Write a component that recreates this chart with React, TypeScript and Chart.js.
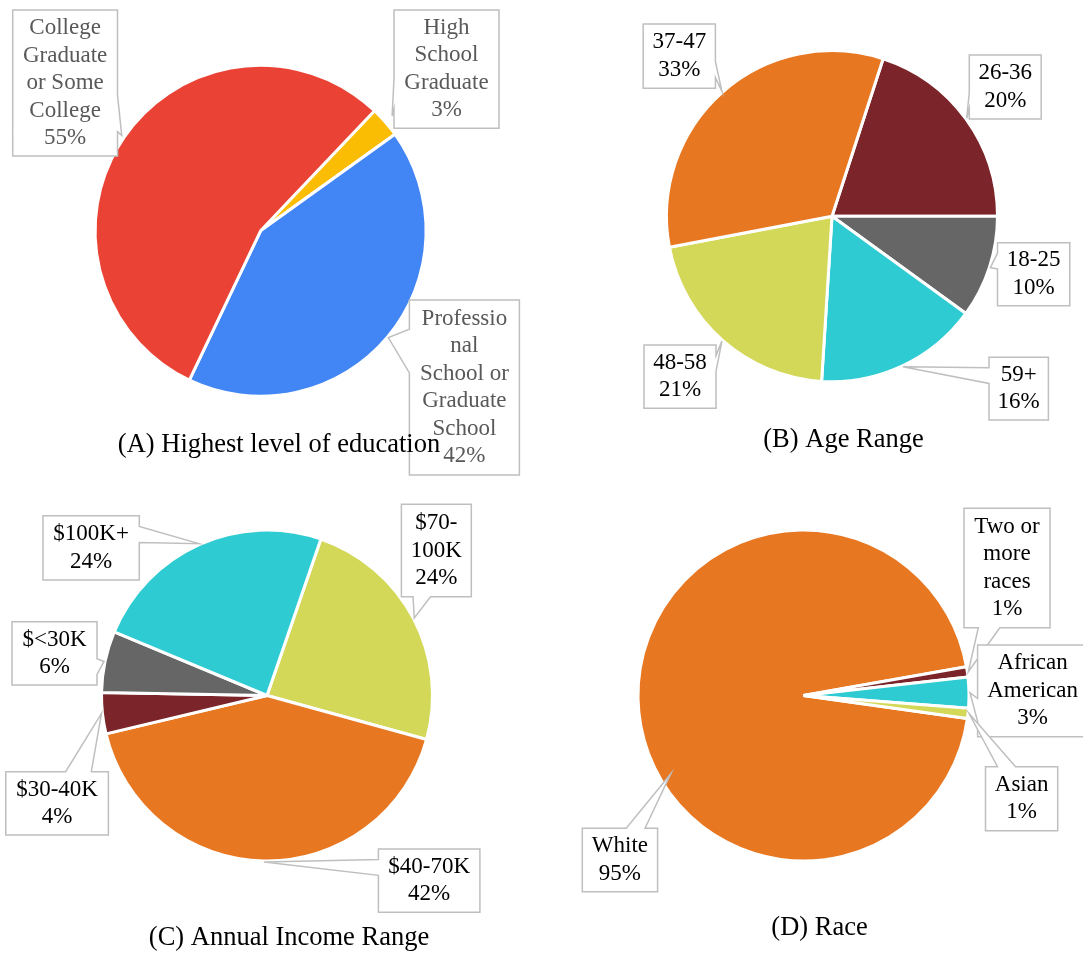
import React, { useEffect, useRef } from 'react';
import { Chart, registerables } from 'chart.js';

Chart.register(...registerables);

const FONT = '"Liberation Serif", "Times New Roman", serif';

// (A) Highest level of education
const eduCategories = ['High School Graduate', 'Professional School or Graduate School', 'College Graduate or Some College'];
const eduValues = [3, 42, 55];
const eduColors = ['#FBBC04', '#4285F4', '#EA4335'];

// (B) Age Range
const ageCategories = ['26-36', '18-25', '59+', '48-58', '37-47'];
const ageValues = [20, 10, 16, 21, 33];
const ageColors = ['#7B2429', '#666666', '#2ECBD2', '#D3D858', '#E87722'];

// (C) Annual Income Range
const incomeCategories = ['$70-100K', '$40-70K', '$30-40K', '$<30K', '$100K+'];
const incomeValues = [24, 42, 4, 6, 24];
const incomeColors = ['#D3D858', '#E87722', '#7B2429', '#666666', '#2ECBD2'];

// (D) Race
const raceCategories = ['White', 'Two or more races', 'African American', 'Asian'];
const raceValues = [95, 1, 3, 1];
const raceColors = ['#E87722', '#7B2429', '#2ECBD2', '#D3D858'];

type LabelLayout = { box: [number, number, number, number]; tipOff?: number; tipAngle?: number };
type Panel = {
  title: string;
  titlePos: [number, number];
  origin: [number, number];
  size: [number, number];
  center: [number, number];
  rotation: number;
  textColor: string;
  categories: string[];
  values: number[];
  colors: string[];
  labels: LabelLayout[];
};

const RADIUS = 165.5;

const panels: Panel[] = [
  {
    title: '(A) Highest level of education',
    titlePos: [279, 445],
    origin: [0, 0],
    size: [541, 478],
    center: [260.6, 230.8],
    rotation: 43.5,
    textColor: '#595959',
    categories: eduCategories,
    values: eduValues,
    colors: eduColors,
    labels: [
      { box: [394, 10, 499, 128.3], tipOff: 9 },
      { box: [409.4, 300, 519.4, 475], tipOff: 1 },
      { box: [12.7, 10, 117.5, 156], tipOff: 3 },
    ],
  },
  {
    title: '(B) Age Range',
    titlePos: [843.5, 440],
    origin: [541, 0],
    size: [542, 478],
    center: [832, 216.2],
    rotation: 18,
    textColor: '#000000',
    categories: ageCategories,
    values: ageValues,
    colors: ageColors,
    labels: [
      { box: [969.3, 55, 1041.2, 119] },
      { box: [997.5, 242.7, 1069.8, 305.7] },
      { box: [989, 357.3, 1048.4, 420] },
      { box: [644, 345, 716, 408.3] },
      { box: [643.2, 24, 715.4, 88.3] },
    ],
  },
  {
    title: '(C) Annual Income Range',
    titlePos: [289, 938.3],
    origin: [0, 478],
    size: [541, 475],
    center: [267, 695.5],
    rotation: 19,
    textColor: '#000000',
    categories: incomeCategories,
    values: incomeValues,
    colors: incomeColors,
    labels: [
      { box: [401.4, 504.3, 471.3, 596.7] },
      { box: [378.4, 849, 479.9, 912.3] },
      { box: [5.8, 771.7, 108.4, 835] },
      { box: [12, 621.7, 97, 685] },
      { box: [43, 515.7, 139.3, 580] },
    ],
  },
  {
    title: '(D) Race',
    titlePos: [819.5, 928.3],
    origin: [541, 478],
    size: [542, 475],
    center: [803.5, 695.5],
    rotation: 98,
    textColor: '#000000',
    categories: raceCategories,
    values: raceValues,
    colors: raceColors,
    labels: [
      { box: [582.3, 828.3, 657.6, 891.7], tipAngle: 239.5, tipOff: -11.5 },
      { box: [964, 508.3, 1050, 627.7] },
      { box: [977.6, 645, 1087.6, 736.7] },
      { box: [985.5, 766.7, 1057.7, 830.7] },
    ],
  },
];

function wrapText(ctx: CanvasRenderingContext2D, text: string, maxW: number): string[] {
  const words = text.split(' ');
  const lines: string[] = [];
  let cur = '';
  for (const w of words) {
    const test = cur ? cur + ' ' + w : w;
    if (ctx.measureText(test).width <= maxW) {
      cur = test;
      continue;
    }
    if (cur) {
      lines.push(cur);
      cur = '';
    }
    if (ctx.measureText(w).width <= maxW) {
      cur = w;
      continue;
    }
    let rest = w;
    while (rest.length > 1 && ctx.measureText(rest).width > maxW) {
      let cut = -1;
      const hy = rest.indexOf('-');
      if (hy > 0 && ctx.measureText(rest.slice(0, hy + 1)).width <= maxW) {
        cut = hy + 1;
      } else {
        cut = rest.length - 1;
        while (cut > 1 && ctx.measureText(rest.slice(0, cut)).width > maxW) cut--;
      }
      lines.push(rest.slice(0, cut));
      rest = rest.slice(cut);
    }
    cur = rest;
  }
  if (cur) lines.push(cur);
  return lines;
}

function calloutPath(ctx: CanvasRenderingContext2D, l: number, t: number, r: number, b: number, px: number, py: number) {
  const w = r - l;
  const h = b - t;
  const hc = l + w / 2;
  const vc = t + h / 2;
  const dxPos = px - hc;
  const dyPos = py - vc;
  const dq = (dxPos * h) / w;
  const dz = Math.abs(dyPos) - Math.abs(dq);
  const x1 = l + (w * (dxPos > 0 ? 7 : 2)) / 12;
  const x2 = l + (w * (dxPos > 0 ? 10 : 5)) / 12;
  const y1 = t + (h * (dyPos > 0 ? 7 : 2)) / 12;
  const y2 = t + (h * (dyPos > 0 ? 10 : 5)) / 12;
  const xl = dz > 0 ? l : dxPos > 0 ? l : px;
  const yl = dz > 0 ? y1 : dxPos > 0 ? y1 : py;
  const xt = dz > 0 ? (dyPos > 0 ? x1 : px) : x1;
  const yt = dz > 0 ? (dyPos > 0 ? t : py) : t;
  const xr = dz > 0 ? r : dxPos > 0 ? px : r;
  const yr = dz > 0 ? y1 : dxPos > 0 ? py : y1;
  const xb = dz > 0 ? (dyPos > 0 ? px : x1) : x1;
  const yb = dz > 0 ? (dyPos > 0 ? py : b) : b;
  ctx.beginPath();
  ctx.moveTo(l, t);
  ctx.lineTo(x1, t);
  ctx.lineTo(xt, yt);
  ctx.lineTo(x2, t);
  ctx.lineTo(r, t);
  ctx.lineTo(r, y1);
  ctx.lineTo(xr, yr);
  ctx.lineTo(r, y2);
  ctx.lineTo(r, b);
  ctx.lineTo(x2, b);
  ctx.lineTo(xb, yb);
  ctx.lineTo(x1, b);
  ctx.lineTo(l, b);
  ctx.lineTo(l, y2);
  ctx.lineTo(xl, yl);
  ctx.lineTo(l, y1);
  ctx.closePath();
}

function makeCalloutPlugin(panel: Panel) {
  return {
    id: 'callouts',
    afterDraw(chart: any) {
      const ctx: CanvasRenderingContext2D = chart.ctx;
      const meta = chart.getDatasetMeta(0);
      const [ox, oy] = panel.origin;
      const total = panel.values.reduce((a, b) => a + b, 0);
      ctx.save();
      meta.data.forEach((arc: any, i: number) => {
        const lay = panel.labels[i];
        if (!lay) return;
        const p = arc.getProps(['x', 'y', 'startAngle', 'endAngle', 'outerRadius'], true);
        const ang = lay.tipAngle !== undefined ? ((lay.tipAngle - 90) * Math.PI) / 180 : (p.startAngle + p.endAngle) / 2;
        const rr = p.outerRadius + (lay.tipOff !== undefined ? lay.tipOff : 1);
        const tx = p.x + Math.cos(ang) * rr;
        const ty = p.y + Math.sin(ang) * rr;
        const l = lay.box[0] - ox;
        const t = lay.box[1] - oy;
        const r = lay.box[2] - ox;
        const b = lay.box[3] - oy;
        calloutPath(ctx, l, t, r, b, tx, ty);
        ctx.fillStyle = '#ffffff';
        ctx.fill();
        ctx.lineWidth = 1.5;
        ctx.strokeStyle = '#BFBFBF';
        ctx.lineJoin = 'miter';
        ctx.stroke();

        ctx.font = `23px ${FONT}`;
        ctx.fillStyle = panel.textColor;
        ctx.textAlign = 'center';
        ctx.textBaseline = 'middle';
        const pct = Math.round((panel.values[i] / total) * 100) + '%';
        const lines = wrapText(ctx, panel.categories[i], r - l - 16).concat([pct]);
        const lh = 27.5;
        const cx = (l + r) / 2;
        const cy = (t + b) / 2;
        lines.forEach((ln, k) => {
          ctx.fillText(ln, cx, cy + (k - (lines.length - 1) / 2) * lh);
        });
      });
      ctx.font = `26.5px ${FONT}`;
      ctx.fillStyle = '#000000';
      ctx.textAlign = 'center';
      ctx.textBaseline = 'middle';
      ctx.fillText(panel.title, panel.titlePos[0] - ox, panel.titlePos[1] - oy);
      ctx.restore();
    },
  };
}

function PiePanel({ panel }: { panel: Panel }) {
  const ref = useRef<HTMLCanvasElement | null>(null);
  useEffect(() => {
    if (!ref.current) return;
    const [W, H] = panel.size;
    const cx = panel.center[0] - panel.origin[0];
    const cy = panel.center[1] - panel.origin[1];
    const chart = new Chart(ref.current, {
      type: 'pie',
      data: {
        labels: panel.categories,
        datasets: [
          {
            data: panel.values,
            backgroundColor: panel.colors,
            borderColor: '#ffffff',
            borderWidth: 3,
            hoverOffset: 0,
            offset: 0,
            radius: RADIUS,
            rotation: panel.rotation,
            clip: false,
          } as any,
        ],
      },
      options: {
        responsive: false,
        animation: false,
        events: [],
        rotation: panel.rotation,
        layout: {
          padding: {
            left: cx - RADIUS,
            top: cy - RADIUS,
            right: W - cx - RADIUS,
            bottom: H - cy - RADIUS,
          },
        },
        plugins: {
          legend: { display: false },
          tooltip: { enabled: false },
          title: { display: false },
        },
      } as any,
      plugins: [makeCalloutPlugin(panel)],
    });
    return () => chart.destroy();
  }, [panel]);
  return (
    <canvas
      ref={ref}
      width={panel.size[0]}
      height={panel.size[1]}
      style={{
        position: 'absolute',
        left: panel.origin[0],
        top: panel.origin[1],
        width: panel.size[0],
        height: panel.size[1],
        display: 'block',
      }}
    />
  );
}

export default function App() {
  return (
    <div
      style={{
        position: 'absolute',
        left: 0,
        top: 0,
        width: 1083,
        height: 953,
        overflow: 'hidden',
        background: '#ffffff',
      }}
    >
      {panels.map((p, i) => (
        <PiePanel key={i} panel={p} />
      ))}
    </div>
  );
}
